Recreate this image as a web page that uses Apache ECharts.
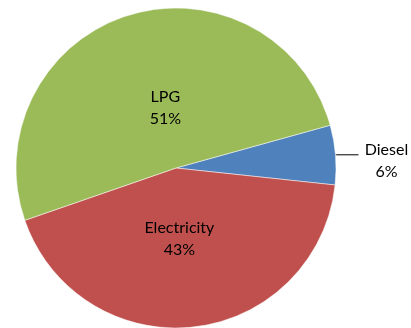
<!DOCTYPE html>
<html>
<head>
<meta charset="utf-8">
<script src="https://cdn.jsdelivr.net/npm/echarts@6/dist/echarts.min.js"></script>
<style>
  html, body { margin: 0; padding: 0; background: #fff; }
  #chart { width: 411px; height: 328px; }
</style>
</head>
<body>
<div id="chart"></div>
<script>
// Share of energy sources (percent)
const categories = ['Diesel', 'Electricity', 'LPG'];
const shares = [6, 43, 51];

const sliceColors = { Diesel: '#4F81BD', Electricity: '#C0504D', LPG: '#9BBB59' };

// Label placement tweaks for the inside labels
const insideLabelOffset = { Electricity: [-6, -12], LPG: [14, 19] };

const FONT = 'Lato, "Open Sans", sans-serif';

const pieData = categories.map((name, i) => {
  const item = {
    name: name,
    value: shares[i],
    itemStyle: { color: sliceColors[name] }
  };
  if (name === 'Diesel') {
    item.label = {
      position: 'outside',
      padding: [12, 0, 0, 0],
      formatter: '{t|{b}}\n{t|{d}%}',
      rich: { t: { width: 46, align: 'center', fontSize: 16, lineHeight: 22, color: '#000', fontFamily: FONT } }
    };
    item.labelLine = { show: true, length: 1, length2: 22, lineStyle: { color: '#000', width: 1 } };
  } else {
    item.label = { position: 'inside', offset: insideLabelOffset[name] };
    item.labelLine = { show: false };
  }
  return item;
});

const chart = echarts.init(document.getElementById('chart'), null, { renderer: 'canvas' });
chart.setOption({
  animation: false,
  backgroundColor: '#fff',
  series: [{
    type: 'pie',
    center: [176, 168],
    radius: 160,
    startAngle: 15.5,
    clockwise: true,
    avoidLabelOverlap: false,
    percentPrecision: 0,
    itemStyle: { borderColor: '#ffffff', borderWidth: 0.5 },
    label: {
      show: true,
      formatter: '{b}\n{d}%',
      fontSize: 16,
      lineHeight: 22,
      color: '#000',
      fontFamily: FONT
    },
    emphasis: { disabled: true },
    data: pieData
  }]
});
</script>
</body>
</html>
